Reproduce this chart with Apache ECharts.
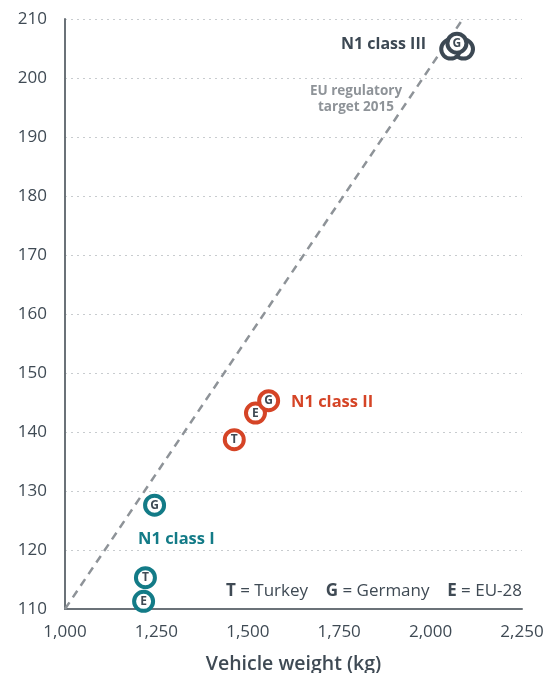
<!DOCTYPE html>
<html>
<head>
<meta charset="utf-8">
<script src="https://cdn.jsdelivr.net/npm/echarts@6/dist/echarts.min.js"></script>
<style>
  html, body { margin: 0; padding: 0; background: #fff; }
  #chart { width: 551px; height: 673px; }
</style>
</head>
<body>
<div id="chart"></div>
<script>
// country codes used as point labels
const codes = ["T", "E", "G"];

// vehicle weight (kg) and CO2 (g/km), in the order T, E, G
const class1Weight = [1220, 1215, 1245];
const class1Co2 = [115.3, 111.3, 127.6];
const class2Weight = [1463, 1521, 1557];
const class2Co2 = [138.7, 143.2, 145.3];
const class3Weight = [2090, 2055, 2072];
const class3Co2 = [204.9, 204.9, 205.9];

// EU regulatory target 2015 line end points
const targetWeight = [1000, 2088];
const targetCo2 = [110, 210];

const xTicks = [1000, 1250, 1500, 1750, 2000, 2250];

const FONT = "'Open Sans', sans-serif";
const TEXT = "#3f4a54";

function points(weights, co2s, hide) {
  return weights.map((w, i) => ({
    value: [w, co2s[i]],
    name: codes[i],
    label: { show: !(hide && hide.includes(codes[i])) },
  }));
}

function scatterSeries(name, color, data) {
  return {
    name: name,
    type: "scatter",
    symbol: "circle",
    symbolSize: 19,
    data: data,
    itemStyle: {
      color: "#fff",
      borderColor: color,
      borderWidth: 4,
      opacity: 1,
    },
    label: {
      show: true,
      position: "inside",
      formatter: (p) => p.name,
      fontFamily: FONT,
      fontWeight: "bold",
      fontSize: 12,
      color: TEXT,
    },
    z: 3,
  };
}

const chart = echarts.init(document.getElementById("chart"), null, { renderer: "canvas" });

const options = {
  animation: false,
  grid: { left: 65, right: 29, top: 19, bottom: 64, outerBoundsMode: "none", containLabel: false },
  xAxis: {
    type: "value",
    min: 1000,
    max: 2250,
    interval: 250,
    name: "Vehicle weight (kg)",
    nameLocation: "middle",
    nameGap: 45,
    nameTextStyle: { fontFamily: FONT, fontSize: 19.5, fontWeight: 600, color: TEXT },
    axisLine: { lineStyle: { color: "#6b7278", width: 2 } },
    axisTick: { show: false },
    splitLine: { show: false },
    axisLabel: {
      fontFamily: FONT,
      fontSize: 17,
      color: TEXT,
      margin: 15,
      formatter: (v) => (xTicks.includes(v) ? v.toLocaleString("en-US") : ""),
    },
  },
  yAxis: {
    type: "value",
    min: 110,
    max: 210,
    interval: 10,
    axisLine: { show: true, lineStyle: { color: "#6b7278", width: 2 } },
    axisTick: { show: false },
    splitLine: { show: true, lineStyle: { color: "#c8cccf", type: [2, 4], width: 1 } },
    axisLabel: { fontFamily: FONT, fontSize: 17, color: TEXT, margin: 18 },
  },
  series: [
    {
      name: "EU regulatory target 2015",
      type: "line",
      data: targetWeight.map((w, i) => [w, targetCo2[i]]),
      symbol: "none",
      lineStyle: { color: "#8e9398", width: 2.5, type: [8, 6] },
      z: 2,
    },
    scatterSeries("N1 class I", "#137b87", points(class1Weight, class1Co2)),
    scatterSeries("N1 class II", "#d54426", points(class2Weight, class2Co2)),
    scatterSeries("N1 class III", "#3c4853", points(class3Weight, class3Co2, ["T", "E"])),
  ],
  graphic: [
    {
      type: "text",
      x: 426, y: 44,
      style: {
        text: "N1 class III",
        font: "bold 16px " + FONT,
        fill: "#3c4853",
        align: "right",
        verticalAlign: "middle",
      },
    },
    {
      type: "text",
      x: 356, y: 99,
      style: {
        text: "EU regulatory\ntarget 2015",
        font: "bold 13.5px " + FONT,
        fill: "#8e9398",
        align: "center",
        verticalAlign: "middle",
        lineHeight: 16,
      },
    },
    {
      type: "text",
      x: 291, y: 402,
      style: {
        text: "N1 class II",
        font: "bold 16.5px " + FONT,
        fill: "#d54426",
        verticalAlign: "middle",
      },
    },
    {
      type: "text",
      x: 138, y: 539,
      style: {
        text: "N1 class I",
        font: "bold 16.5px " + FONT,
        fill: "#137b87",
        verticalAlign: "middle",
      },
    },
    {
      type: "text",
      x: 522, y: 591,
      style: {
        text: "{b|T} = Turkey    {b|G} = Germany    {b|E} = EU-28",
        font: "17px " + FONT,
        fill: TEXT,
        align: "right",
        verticalAlign: "middle",
        rich: {
          b: { font: "bold 17px " + FONT, fill: TEXT },
        },
      },
    },
  ],
};

chart.setOption(options);
</script>
</body>
</html>
